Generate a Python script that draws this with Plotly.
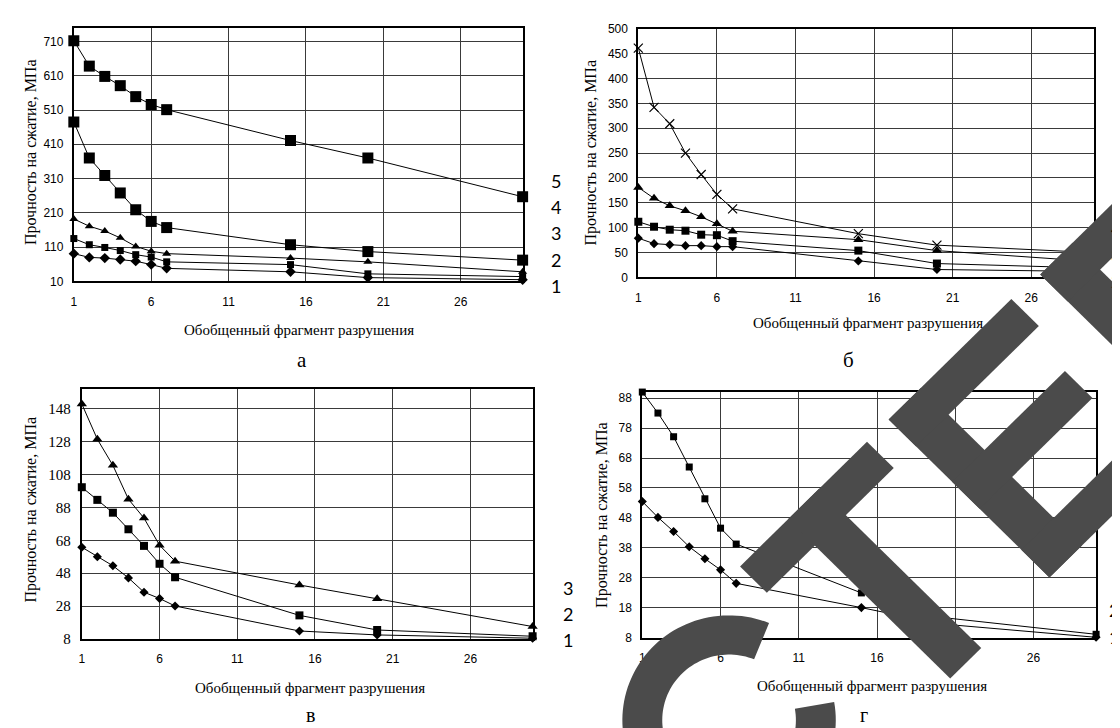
import numpy as np
import plotly.graph_objects as go

W, H = 1120, 728

# ---------------- data ----------------
x_pts = [1, 2, 3, 4, 5, 6, 7, 15, 20, 30]
tick_x = [1, 6, 11, 16, 21, 26]

# panel а
a_s1 = [91, 80, 78, 74, 69, 59, 48, 38, 21, 15]
a_s2 = [135, 117, 109, 100, 88, 81, 67, 59, 32, 24]
a_s3 = [192, 171, 157, 137, 112, 98, 91, 78, 67, 38]
a_s4 = [475, 370, 319, 268, 219, 185, 167, 117, 97, 72]
a_s5 = [712, 638, 608, 581, 549, 526, 511, 421, 370, 257]
a_ticks = [10, 110, 210, 310, 410, 510, 610, 710]

# panel б
b_s1 = [79, 68, 66, 64, 64, 62, 62, 33, 16, 12]
b_s2 = [112, 102, 96, 94, 86, 85, 73, 54, 28, 19]
b_s3 = [181, 159, 144, 134, 122, 108, 93, 76, 54, 32]
b_s4 = [461, 342, 309, 250, 207, 167, 138, 88, 65, 50]
b_ticks = [0, 50, 100, 150, 200, 250, 300, 350, 400, 450, 500]

# panel в
v_s1 = [63.8, 58, 52.5, 45.1, 36.4, 32.6, 28, 12.8, 10.4, 8.4]
v_s2 = [100.3, 92.6, 84.8, 74.7, 64.6, 53.7, 45.5, 22.3, 13.4, 9.6]
v_s3 = [151, 129.5, 113.6, 93, 81.5, 65, 55.3, 40.8, 32.4, 15.5]
v_ticks = [8, 28, 48, 68, 88, 108, 128, 148]

# panel г
g_s1 = [53.5, 48.2, 43.5, 38.4, 34.4, 30.7, 26.2, 18.1, 12.7, 8.2]
g_s2 = [90, 83, 75.1, 65, 54.4, 44.6, 39.3, 23, 14.9, 9.2]
g_ticks = [8, 18, 28, 38, 48, 58, 68, 78, 88]

x_title = "Обобщенный фрагмент разрушения"
y_title = "Прочность на сжатие, МПа"

SANS = "Liberation Sans, Arial, sans-serif"
SERIF = "Liberation Serif, Times New Roman, serif"
LBL = "Lato, Open Sans, sans-serif"

fig = go.Figure()


def px_x(p):
    return p / W


def px_y(p):
    return 1 - p / H


panels = {
    "1": ((63, 513), (13, 272), [10, 750], a_ticks, SANS, 12),
    "2": ((629, 1086), (14, 268), [0, 500], b_ticks, SANS, 12),
    "3": ((71, 523), (382, 637), [8, 160], v_ticks, SERIF, 15),
    "4": ((633, 1088), (385, 636), [8, 90], g_ticks, SANS, 12),
}

for k, (xd, yd, yr, yt, yfont, yfs) in panels.items():
    xa = "xaxis" if k == "1" else f"xaxis{k}"
    ya = "yaxis" if k == "1" else f"yaxis{k}"
    fig.layout[xa] = dict(
        domain=[px_x(xd[0]), px_x(xd[1])], range=[1, 30], anchor="y" if k == "1" else f"y{k}",
        tickvals=tick_x, showgrid=True, gridcolor="#3a3a3a", gridwidth=1,
        showline=True, linecolor="black", linewidth=2, mirror=True,
        ticks="", ticklabelstandoff=8, zeroline=False,
        tickfont=dict(family=SANS, size=12, color="black"), fixedrange=True,
    )
    fig.layout[ya] = dict(
        domain=[px_y(yd[1]), px_y(yd[0])], range=yr, anchor="x" if k == "1" else f"x{k}",
        tickvals=yt, showgrid=True, gridcolor="#3a3a3a", gridwidth=1,
        showline=True, linecolor="black", linewidth=2, mirror=True,
        ticks="", ticklabelstandoff=6, zeroline=False,
        tickfont=dict(family=yfont, size=yfs, color="black"), fixedrange=True,
    )


def add(k, y, symbol, size):
    xr = "x" if k == "1" else f"x{k}"
    yr = "y" if k == "1" else f"y{k}"
    mk = dict(symbol=symbol, size=size, color="black")
    if symbol == "x-thin":
        mk = dict(symbol=symbol, size=size, color="black", line=dict(color="black", width=1.2))
    fig.add_trace(go.Scatter(
        x=x_pts, y=y, mode="lines+markers", xaxis=xr, yaxis=yr,
        line=dict(color="black", width=1), marker=mk, cliponaxis=False,
        showlegend=False, hoverinfo="skip",
    ))


add("1", a_s1, "diamond", 8)
add("1", a_s2, "square", 7)
add("1", a_s3, "triangle-up", 8)
add("1", a_s4, "square", 11)
add("1", a_s5, "square", 11)

add("2", b_s1, "diamond", 7)
add("2", b_s2, "square", 8)
add("2", b_s3, "triangle-up", 9)
add("2", b_s4, "x-thin", 9)

add("3", v_s1, "diamond", 7)
add("3", v_s2, "square", 8)
add("3", v_s3, "triangle-up", 9)

add("4", g_s1, "diamond", 7)
add("4", g_s2, "square", 7)

ann = []


def text(x, y, t, font, size, angle=0, xanchor="center"):
    ann.append(dict(x=px_x(x), y=px_y(y), xref="paper", yref="paper", text=t,
                    showarrow=False, textangle=angle, xanchor=xanchor, yanchor="middle",
                    font=dict(family=font, size=size, color="black")))


# axis titles
text(289, 322, x_title, SERIF, 15)
text(859, 314, x_title, SERIF, 15)
text(300, 687, x_title, SERIF, 15)
text(863, 685, x_title, SERIF, 15)
text(20, 140, y_title, SERIF, 16, -90)
text(582, 140, y_title, SERIF, 16, -90)
text(20, 505, y_title, SERIF, 16, -90)
text(593, 510, y_title, SERIF, 16, -90)

# panel letters
text(292, 352, "а", SERIF, 21)
text(840, 352, "б", SERIF, 21)
text(300, 715, "в", SERIF, 20)
text(855, 715, "г", SERIF, 20)

# curve numbers
for t, yy in zip(["5", "4", "3", "2", "1"], [169, 196, 223, 250, 277]):
    text(539, yy, t, LBL, 18, xanchor="left")
for t, yy in zip(["4", "3", "2", "1"], [218, 245, 272, 299]):
    text(1101, yy, t, LBL, 18, xanchor="left")
for t, yy in zip(["3", "2", "1"], [585, 612, 638]):
    text(551, yy, t, LBL, 18, xanchor="left")
for t, yy in zip(["2", "1"], [608, 635]):
    text(1099, yy, t, LBL, 18, xanchor="left")

# ---------------- watermark (decorative overlay) ----------------
U = np.array([1, -1]) / np.sqrt(2)
V = np.array([1, 1]) / np.sqrt(2)
WM = "#4b4b4b"
shapes = []


def poly_path(pts):
    return "M " + " L ".join(f"{px_x(p[0]):.5f},{px_y(p[1]):.5f}" for p in pts) + " Z"


def rect(O, a0, a1, b0, b1):
    O = np.array(O, float)
    pts = [O + a0 * U + b0 * V, O + a1 * U + b0 * V, O + a1 * U + b1 * V, O + a0 * U + b1 * V]
    shapes.append(dict(type="path", path=poly_path(pts), xref="paper", yref="paper",
                       fillcolor=WM, line=dict(width=0), layer="above"))


# C
cx, cy, r0, r1 = 720, 720, 67, 107
th = np.radians(np.linspace(68, 370, 120))
outer = [(cx + r1 * np.cos(t), cy - r1 * np.sin(t)) for t in th]
inner = [(cx + r0 * np.cos(t), cy - r0 * np.sin(t)) for t in th[::-1]]
shapes.append(dict(type="path", path=poly_path(outer + inner), xref="paper", yref="paper",
                   fillcolor=WM, line=dict(width=0), layer="above"))
# T
OT = (731, 563)
rect(OT, 0, 180, 0, 38)
rect(OT, 68, 112, 0, 230)
# E
OE = (880, 413)
rect(OE, 0, 46, 0, 228)
rect(OE, 0, 174, 0, 39)
rect(OE, 0, 160, 90, 129)
rect(OE, 0, 174, 188, 228)
# next letter
O2 = (1032, 265)
rect(O2, 0, 46, 0, 228)
rect(O2, 0, 174, 0, 39)

fig.update_layout(
    width=W, height=H, margin=dict(l=0, r=0, t=0, b=0),
    paper_bgcolor="white", plot_bgcolor="white",
    annotations=ann, shapes=shapes, showlegend=False,
)

fig.write_html("out.html")
